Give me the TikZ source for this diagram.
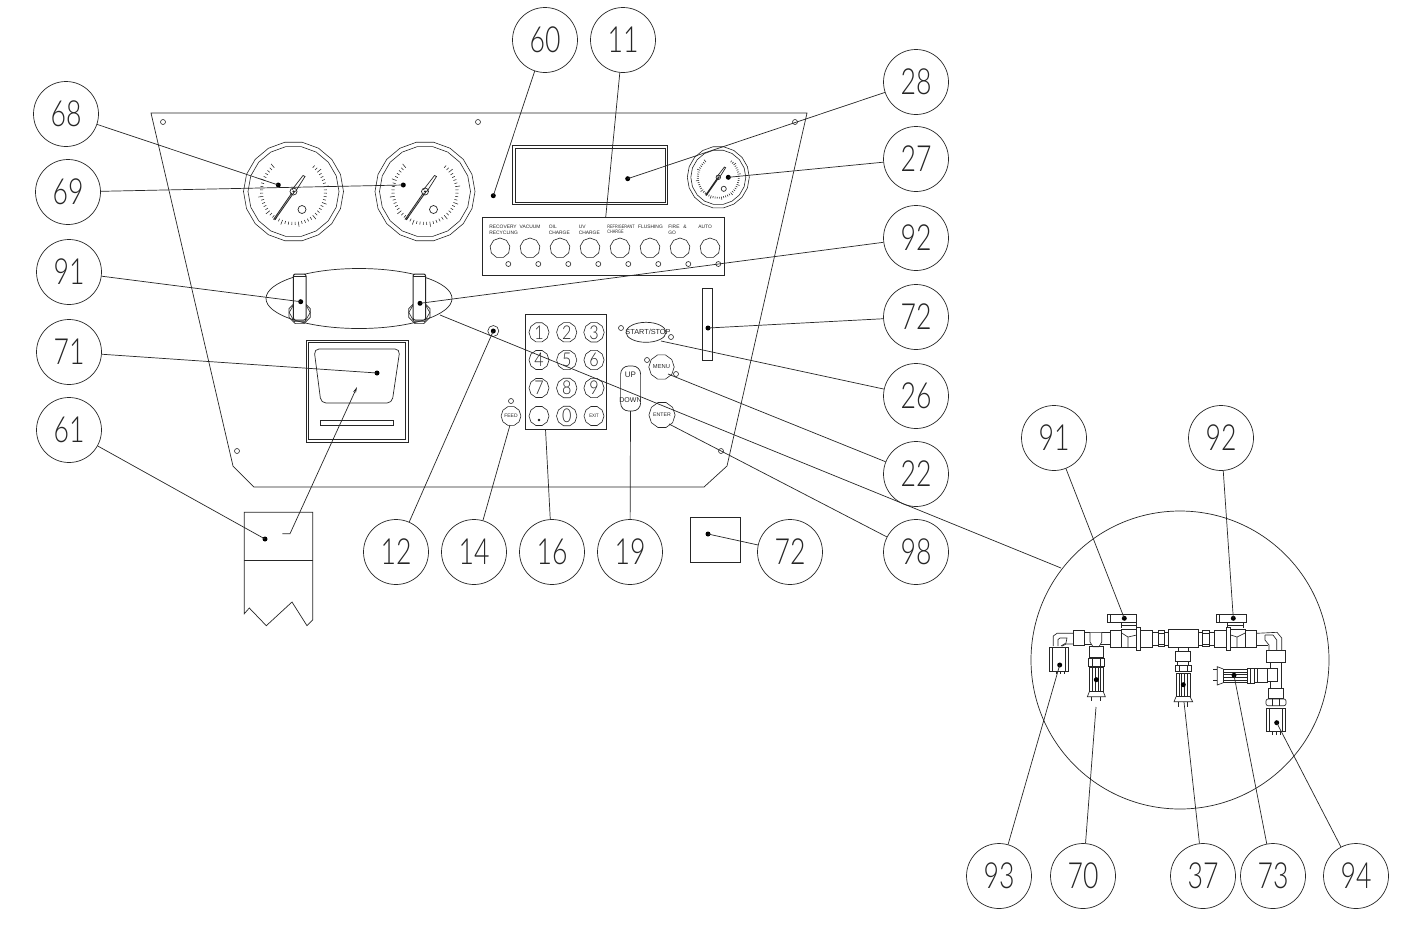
\documentclass[tikz,border=0pt]{standalone}
\usepackage{fontspec}
\setmainfont{Liberation Sans}
\newfontfamily\thinfont{Lato Light}
\usetikzlibrary{shapes.geometric,arrows.meta}
\definecolor{ink}{gray}{0.15}
\newcommand{\nar}[1]{\scalebox{.74}[1]{#1}}
\tikzset{
  x=1pt,y=-1pt,
  every path/.style={draw=ink,line width=0.7pt},
  balloon/.style={circle,draw=ink,line width=0.7pt,minimum size=65pt,inner sep=0pt,fill=none,text=ink,font=\thinfont\fontsize{36}{36}\selectfont},
  ldr/.style={draw=ink,line width=0.7pt},
  blob/.style={circle,fill=black,draw=none,minimum size=5pt,inner sep=0pt},
  led/.style={circle,draw=ink,line width=0.6pt,minimum size=5pt,inner sep=0pt},
  gaugeout/.style={regular polygon,regular polygon sides=18,draw=ink,line width=0.6pt,inner sep=0pt},
  key/.style={regular polygon,regular polygon sides=10,draw=ink,line width=0.6pt,minimum size=20pt,inner sep=0pt,text=ink},
  panelkey/.style={regular polygon,regular polygon sides=9,draw=ink,line width=0.6pt,minimum size=20pt,inner sep=0pt},
  lbl/.style={anchor=west,inner sep=0pt,text=ink,font=\fontsize{4.9}{4.9}\selectfont},
  small/.style={inner sep=0pt,text=ink},
}
\newcommand{\gauge}[6]{% name,x,y,R outer,R inner,scale factor
  \node[gaugeout,minimum size=#4*2pt] (#1o) at (#2,#3) {};
  \node[gaugeout,minimum size=#5*2pt] (#1i) at (#2,#3) {};
  \begin{scope}[shift={(#2,#3)},scale=#6]
    \foreach \a [count=\i from 0] in {231,225,...,-52}{
      \pgfmathsetmacro{\rr}{ifthenelse(mod(\i,5)==0,35.5,33.5)}
      \draw[line width=0.55pt] ({\a}:30.5) -- ({\a}:\rr);
    }
    \draw[line width=0.8pt] (-20,28) -- (-1.6,1.4) (-18.8,28.5) -- (1.6,-.6);
    \draw (-1.6,-1.6) -- (9.5,-16) -- (11.5,-15) -- (2,0);
    \draw (0,0) circle (3.5);
    \draw (8.5,18) circle (4);
    \fill[ink] (0,0) circle (.6);
  \end{scope}
}
\newcommand{\tog}[3]{% name,x,y
  \node[regular polygon,regular polygon sides=8,draw=ink,minimum size=23pt,inner sep=0pt,line width=.7pt] (#1n) at (#2,#3+14) {};
  \node[regular polygon,regular polygon sides=6,draw=ink,minimum size=21pt,inner sep=0pt,line width=.6pt] (#1m) at (#2,#3+13.5) {};
  \draw[fill=white,line width=1pt,rounded corners=2pt] (#2-6.3,#3-25) rectangle (#2+6.3,#3+21);
  \draw[line width=.5pt] (#2-6.3,#3-23) -- (#2+6.3,#3-23);
}
\newcommand{\rc}[4]{\draw (#1,#2) rectangle (#3,#4);}
\begin{document}
\begin{tikzpicture}
\useasboundingbox[draw=none,fill=white] (0,0) rectangle (1421,930);
% main panel
\draw (151,113) -- (807,113) -- (727,466) -- (704,487) -- (254,487) -- (233,466) -- cycle;
\foreach \n/\x/\y in {a/163/122,b/478/122,c/795/122,d/237/451,e/721/451}
  \node[led] (hole\n) at (\x,\y) {};
% gauges
\gauge{ga}{293.5}{191.5}{50}{45.5}{1}
\gauge{gb}{425}{191.5}{50}{45.5}{1}
\gauge{gc}{718.3}{177.3}{31}{27.5}{.64}
% display
\rc{512.5}{145.5}{667.5}{204.5}
\rc{515}{148}{665}{202}
% mode panel
\node[draw=ink,line width=.7pt,minimum width=242pt,minimum height=58pt,inner sep=0pt] (modes) at (603.3,246.3) {};
\foreach \x [count=\i] in {500,530,560,590,620,650,680,710}{
  \node[panelkey] (pk\i) at (\x,248) {};
  \node[led] (pl\i) at (\x+8.3,264) {};
}
\node[lbl] (t1) at (489,226.7) {RECOVERY};
\node[lbl] (t1b) at (489,233) {RECYCLING};
\node[lbl] (t2) at (519.3,226.7) {VACUUM};
\node[lbl] (t3) at (548.5,226.7) {OIL};
\node[lbl] (t3b) at (548.5,233) {CHARGE};
\node[lbl] (t4) at (578.5,226.7) {UV};
\node[lbl] (t4b) at (578.5,233) {CHARGE};
\node[lbl,font=\fontsize{4.9}{4.9}\selectfont] (t5) at (607,226.7) {\scalebox{.78}[1]{REFRIGERANT}};
\node[lbl,font=\fontsize{4.9}{4.9}\selectfont] (t5b) at (607,232) {\scalebox{.78}[1]{CHARGE}};
\node[lbl] (t6) at (637.7,226.7) {FLUSHING};
\node[lbl] (t7) at (668,226.7) {FIRE\hspace{2.5pt} \&};
\node[lbl] (t7b) at (668,233) {GO};
\node[lbl] (t8) at (698,226.7) {AUTO};
% ellipse with toggles
\node[ellipse,draw=ink,line width=.7pt,minimum width=186pt,minimum height=60pt,inner sep=0pt] (oval) at (359,298.5) {};
\tog{ta}{299.7}{299}
\tog{tb}{419.3}{299}
% printer
\rc{306}{340}{408}{442}
\rc{308.5}{342.5}{405.5}{439.5}
\draw[rounded corners=5pt] (314,349) -- (400,349) -- (392,403) -- (321,403) -- cycle;
\rc{320.5}{420}{393.5}{425}
% keypad
\node[draw=ink,line width=.7pt,minimum width=81pt,minimum height=115pt,inner sep=0pt] (keypad) at (566.2,371.8) {};
\foreach \x/\y/\t in {539/332.3/1,566.7/332.3/2,594/332.3/3,539/360/4,566.7/360/5,594/360/6,539/388/7,566.7/388/8,594/388/9,566.7/416/0}
  \node[key,font=\thinfont\fontsize{19}{19}\selectfont] (k\t) at (\x,\y) {\scalebox{.85}[1]{\t}};
\node[key] (kdot) at (539,416) {};
\fill[ink] (kdot.center)+(0,4) circle (.8);
\node[key,font=\fontsize{5}{5}\selectfont] (kexit) at (594,416) {\scalebox{.85}[1]{EXIT}};
% other buttons
\node[circle,draw=ink,line width=.6pt,minimum size=11pt,inner sep=0pt] (d12) at (493.3,331) {};
\node[blob] (d12c) at (493.3,331) {};
\node[ellipse,draw=ink,line width=.7pt,minimum width=40pt,minimum height=20pt,inner sep=0pt] (startstop) at (646,332.3) {};
\node[small,font=\fontsize{7.3}{7.3}\selectfont] (ssl) at (648,332.3) {START/STOP};
\node[led] (sl1) at (621,328) {};
\node[led] (sl2) at (671,337) {};
\node[key,minimum size=19pt,font=\fontsize{5.8}{5.8}\selectfont] (menu) at (661.5,367) {MENU};
\node[led] (ml1) at (647,360) {};
\node[led] (ml2) at (676,374) {};
\draw[rounded corners=8pt] (620.6,366) rectangle (640.6,411);
\coordinate (udb) at (630.5,411);
\node[small,font=\fontsize{8}{8}\selectfont] (up) at (630.5,375) {UP};
\node[small,font=\fontsize{7}{7}\selectfont] (down) at (630.5,400) {DOWN};
\node[key,minimum size=19pt,font=\fontsize{5.2}{5.2}\selectfont] (enter) at (662,415) {ENTER};
\node[key,minimum size=19pt,font=\fontsize{5}{5}\selectfont] (feed) at (511,416) {FEED};
\node[led] (fl) at (511,401) {};
\rc{702.3}{288.3}{712.6}{360}
% paper roll
\draw (244.3,613.7) -- (244.3,512.3) -- (312.7,512.3) -- (312.7,620) -- (307,625.7) -- (292,602) -- (266.3,625.7) -- (249.3,608) -- cycle;
\draw (244.3,560.3) -- (312.7,560.3);
% small square
\rc{690}{517}{740}{562}
% detail circle
\node[circle,draw=ink,line width=.7pt,minimum size=298pt,inner sep=0pt] (detail) at (1180,660) {};
% ---- manifold
\begin{scope}[every path/.append style={line width=.65pt}]
% handles
\draw[fill=white] (1107.7,614.3) rectangle (1136.7,622.3);
\draw (1110.5,614.3)--(1110.5,622.3);
\draw (1121,622.3)--(1121,628) (1136,622.3)--(1136,628) (1121,625)--(1136,625);
\draw[fill=white] (1216.7,614.3) rectangle (1246,622.3);
\draw (1219.5,614.3)--(1219.5,622.3);
\draw (1227,622.3)--(1227,628) (1243,622.3)--(1243,628) (1227,625)--(1243,625);
% left elbow
\draw (1053.3,646) -- (1053.3,636) -- (1057,633.3) -- (1073.3,633.3);
\draw (1058,646) -- (1058,639.5) -- (1060,638) -- (1067,638) -- (1066,643) -- (1061,646);
\draw (1062,646) -- (1066,644) -- (1073.3,644);
% nut 93
\rc{1049.3}{647.3}{1068.3}{671}
\draw (1052.3,647.3)--(1052.3,671) (1065.3,647.3)--(1065.3,671);
\draw (1056,671)--(1056,674) (1060,671)--(1060,674) (1064,671)--(1064,674);
% coupler + tee
\rc{1073.3}{630.7}{1084}{645}
\rc{1084}{632.7}{1110}{644.3}
\draw[fill=white] (1090,632.7)--(1090,642)--(1093,646.7)--(1099,646.7)--(1101.7,642)--(1101.7,632.7);
\rc{1089.3}{646.7}{1103.3}{657.7}
\rc{1088.3}{658.3}{1104}{666}
\draw (1092,658.3)--(1092,666) (1100,658.3)--(1100,666);
% body 70
\rc{1089.3}{667.3}{1103.3}{691.7}
\foreach \dx in {3,5.5,8.5,11}{\draw[line width=.5pt] (1089.3+\dx,667.3)--(1089.3+\dx,691.7);}
\draw (1089.3,691.7)--(1087.3,696.7)--(1105.3,696.7)--(1103.3,691.7);
\draw (1091.5,696.7)--(1091.5,701) (1100.5,696.7)--(1100.5,701);
% left valve
\rc{1110}{630.7}{1121.7}{647.3}
\rc{1121.7}{629.3}{1136.7}{647.3}
\draw (1121.7,633)--(1128,637)--(1136.7,635) (1128,637)--(1128,647.3);
\draw[line width=1pt] (1136.7,627.3) rectangle (1140.7,650);
\rc{1140.7}{630.7}{1152.7}{647.3}
\rc{1152.7}{632.7}{1158.3}{645}
\rc{1158.3}{630.7}{1164}{646.7}
\rc{1164}{632.7}{1168.3}{645}
\draw (1158.3,633)--(1164,633) (1158.3,644)--(1164,644);
% block
\rc{1168.3}{629.3}{1198.3}{647.3}
\rc{1178}{647.3}{1188}{651.7}
\rc{1175.3}{651.7}{1190.7}{661}
\rc{1177.5}{661}{1188.5}{665.3}
\rc{1175.3}{665.3}{1191}{671}
\draw (1179,665.3)--(1179,671) (1187,665.3)--(1187,671);
\rc{1176}{673.3}{1190}{696.7}
\foreach \dx in {3,5.5,8.5,11}{\draw[line width=.5pt] (1176+\dx,673.3)--(1176+\dx,696.7);}
\draw (1176,696.7)--(1174,701.7)--(1192.7,701.7)--(1190,696.7);
\draw (1178.5,701.7)--(1178.5,707) (1187.5,701.7)--(1187.5,707);
% right of block
\rc{1198.3}{632.7}{1202.7}{645}
\rc{1202.7}{630.7}{1209}{646.7}
\draw (1202.7,633)--(1209,633) (1202.7,644)--(1209,644);
\rc{1209}{632.7}{1214}{645}
\rc{1214}{630.7}{1226.7}{647.3}
\draw[line width=1pt] (1226.7,627.3) rectangle (1230.7,650);
\rc{1230.7}{629.3}{1245}{647.3}
\draw (1230.7,635)--(1237,637)--(1245,633) (1237,637)--(1237,647.3);
\rc{1245}{630.7}{1256.7}{647.3}
% right elbow
\draw (1256.7,633.3) -- (1277,632.3) -- (1281.7,638) -- (1281.7,650);
\draw (1265,635) -- (1273,635) -- (1276.7,640) -- (1276.7,650);
\draw (1265,635) -- (1265,640) -- (1269,645) -- (1269,650);
\draw (1256.7,645) -- (1268,645);
\rc{1266.7}{650}{1285}{662.3}
% right tee
\draw (1270,662.3) -- (1270,668.3) -- (1267,668.3) -- (1267,681.7) -- (1270,681.7) -- (1270,688.3);
\draw (1281.7,662.3) -- (1281.7,688.3);
\draw (1270,668.3)--(1277,668.3)--(1277,681.7)--(1270,681.7);
\rc{1254}{668.3}{1267}{682.7}
\draw (1257,668.3)--(1257,682.7);
\rc{1247.3}{668.3}{1254}{683.3}
\draw (1250,668.3)--(1250,683.3);
% body 73
\rc{1223.3}{669}{1247}{682.7}
\foreach \dy in {3,5.5,8.5,11}{\draw[line width=.5pt] (1223.3,669+\dy)--(1247,669+\dy);}
\draw (1223.3,669)--(1217.3,666.7)--(1217.3,685)--(1223.3,682.7);
\draw (1217.3,669.3)--(1212.7,669.3) (1217.3,680.7)--(1212.7,680.7);
% lower right
\rc{1268.7}{688.3}{1283.3}{698.3}
\draw[rounded corners=2pt] (1266,699) rectangle (1286,705.7);
\draw (1272.5,699)--(1272.5,705.7) (1279.5,699)--(1279.5,705.7);
\rc{1266}{708.3}{1285.3}{731.7}
\draw (1269,708.3)--(1269,731.7) (1282.3,708.3)--(1282.3,731.7);
\draw (1272,731.7)--(1272,735) (1276,731.7)--(1276,735) (1280,731.7)--(1280,735);
\end{scope}
% blobs and leader ends
\foreach \n/\x/\y in {d68/278.3/185,d69/403.3/185,d91/300.7/301.7,d92/420/303.3,d60/493.3/195.7,d28/627.7/178.7,d27/728.3/177.3,d72/708/328,d71/377/373,d61/265/539,d72b/708/534,d91b/1124.3/618.3,d92b/1233.3/618.3,d93/1059.7/665,d70b/1096.3/679.7,d37b/1183.3/684.7,d73/1234/675.3,d94/1276.7/722.7}
  \node[blob] (\n) at (\x,\y) {};
\coordinate (e11) at (605.7,217.3);
\coordinate (e26) at (661,341);
\coordinate (e22) at (668,374);
\coordinate (e98) at (669,424);
\coordinate (e14) at (510,425);
\coordinate (e16) at (545.5,429.3);
\coordinate (e70) at (1096,707);
\coordinate (e37) at (1184,702);
\coordinate (ov) at (440,315);
\coordinate (dt) at (1061,568);
\coordinate (arrtail) at (290,533.7);
\coordinate (arrstub) at (282.3,533.7);
\coordinate (arrtip) at (357,387);
% balloons
\foreach \n/\x/\y/\t in {b60/545/40/60,b11/623/40/11,b28/916/82/28,b68/66/114/68,b27/916/159/27,b69/68/192/69,b92/916/238/92,b91/69/272/91,b72/916/317/72,b71/69/352/71,b26/916/396/26,b61/69/430/61,b22/916/474/22,b12/396/552/12,b14/474/552/14,b16/552/552/16,b19/630/552/19,b72c/790/552/72,b98/916/552/98,b91c/1054/438/91,b92c/1221/438/92,b93/999/876/93,b70/1083/876/70,b37/1203/876/37,b73/1273/876/73,b94/1356/876/94}
  \node[balloon] (\n) at (\x,\y) {\nar{\t}};
% leaders
\foreach \a/\b in {b68/d68,b69/d69,b91/d91,b92/d92,b60/d60,b11/e11,b28/d28,b27/d27,b72/d72,b71/d71,b26/e26,b61/d61,b22/e22,b12/d12c,b14/e14,b16/e16,b19/udb,b72c/d72b,b98/e98,b91c/d91b,b92c/d92b,b93/d93,b70/e70,b37/e37,b73/d73,b94/d94}
  \draw[ldr] (\a) -- (\b.center);
\draw[ldr] (ov) -- (dt);
\draw[ldr,-{Stealth[length=6pt,width=3pt]}] (arrstub) -- (arrtail) -- (arrtip);
\end{tikzpicture}
\end{document}
